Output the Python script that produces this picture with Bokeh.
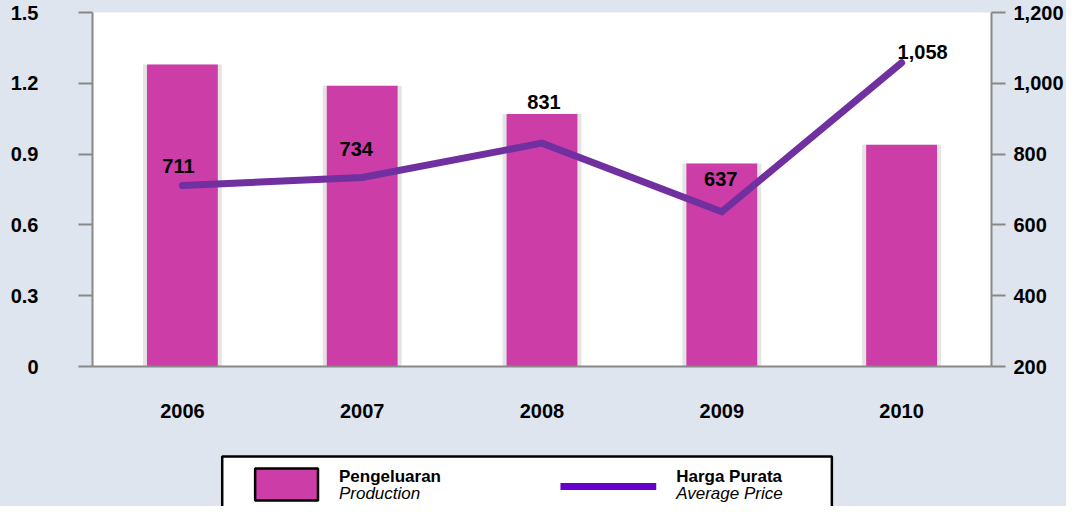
from bokeh.plotting import figure
from bokeh.models import (FactorRange, Range1d, LinearAxis, FixedTicker,
                          NumeralTickFormatter, ColumnDataSource)
from bokeh.layouts import column
from bokeh.embed import file_html
from bokeh.resources import INLINE
from bokeh.core.properties import value

# ---------------- data ----------------
years = ["2006", "2007", "2008", "2009", "2010"]
production = [1.28, 1.19, 1.07, 0.86, 0.94]
avg_price = [711, 734, 831, 637, 1058]
price_labels = ["711", "734", "831", "637", "1,058"]
left_ticks = [0, 0.3, 0.6, 0.9, 1.2, 1.5]
right_ticks = [200, 400, 600, 800, 1000, 1200]

# ---------------- style / layout ----------------
BG = "#dee5ef"
BAR = "#cd3da7"
LINE = "#7030a0"
LEG_LINE = "#6600cc"
AXIS = "#888888"
FONT = "Liberation Sans"
label_dx = [-4, -6, 2, -1, 21]
label_dy = [20, 28, 41, 33, 11]

W, H_MAIN, H_LEG = 1066, 452, 54
FL, FR = 92, 993  # frame left / right

p = figure(width=W, height=H_MAIN,
           x_range=FactorRange(factors=years, range_padding=0),
           y_range=Range1d(0, 1.5),
           output_backend="svg", toolbar_location=None,
           min_border_left=FL, min_border_right=W - FR,
           min_border_top=12, min_border_bottom=H_MAIN - 366,
           background_fill_color="white", border_fill_color=BG,
           outline_line_color=None)
p.grid.visible = False
p.extra_y_ranges = {"price": Range1d(200, 1200)}

def style_axis(ax):
    ax.axis_line_color = AXIS
    ax.axis_line_width = 2
    ax.major_tick_line_color = AXIS
    ax.major_tick_line_width = 2
    ax.minor_tick_line_color = None
    ax.major_label_text_font = FONT
    ax.major_label_text_font_size = "20px"
    ax.major_label_text_font_style = "bold"
    ax.major_label_text_color = "black"

left = p.yaxis[0]
style_axis(left)
left.ticker = FixedTicker(ticks=left_ticks)
left.major_label_overrides = {0: "0"}
left.major_tick_out = 14
left.major_tick_in = 0
left.major_label_standoff = 40

right = LinearAxis(y_range_name="price", ticker=FixedTicker(ticks=right_ticks),
                   formatter=NumeralTickFormatter(format="0,0"))
style_axis(right)
right.major_tick_out = 14
right.major_tick_in = 0
right.major_label_standoff = 8
p.add_layout(right, "right")

xa = p.xaxis[0]
style_axis(xa)
xa.major_tick_out = 0
xa.major_tick_in = 0
xa.major_label_standoff = 37

src = ColumnDataSource(dict(x=years, prod=production, price=avg_price,
                            lab=price_labels, dx=label_dx, dy=[-d for d in label_dy]))

p.vbar(x="x", top="prod", width=0.394 + 8 / 180, source=src,
       fill_color="#e4e4e4", line_color=None)
p.vbar(x="x", top="prod", width=0.394, source=src,
       fill_color=BAR, line_color=None)
p.line(x="x", y="price", source=src, y_range_name="price",
       line_color=LINE, line_width=7, line_cap="round", line_join="miter")
p.text(x="x", y="price", text="lab", source=src, y_range_name="price",
       x_offset="dx", y_offset="dy", text_align="center", text_baseline="middle",
       text_font=value(FONT), text_font_size="20px", text_font_style="bold",
       text_color="black")

# ---------------- legend panel (coordinates in page pixels) ----------------
lg = figure(width=W, height=H_LEG, x_range=Range1d(FL, FR),
            y_range=Range1d(H_MAIN + H_LEG, H_MAIN),
            output_backend="svg", toolbar_location=None,
            min_border_left=FL, min_border_right=W - FR,
            min_border_top=0, min_border_bottom=0,
            x_axis_location=None, y_axis_location=None,
            background_fill_color=None, border_fill_color=BG, outline_line_color=None)
lg.grid.visible = False
lg.quad(left=[222], right=[833], top=[456], bottom=[540],
        fill_color="white", line_color="black", line_width=2.5)
lg.quad(left=[255], right=[318], top=[468], bottom=[500],
        fill_color=BAR, line_color="black", line_width=2.5)
lg.segment(x0=[561], x1=[657], y0=[486], y1=[486], line_color=LEG_LINE, line_width=7)
lg.text(x=[339, 677], y=[476, 476], text=["Pengeluaran", "Harga Purata"],
        text_font=value(FONT), text_font_size="17px", text_font_style="bold",
        text_align="left", text_baseline="middle", text_color="black")
lg.text(x=[339, 677], y=[493, 493], text=["Production", "Average Price"],
        text_font=value(FONT), text_font_size="17px", text_font_style="italic",
        text_align="left", text_baseline="middle", text_color="black")

layout = column(p, lg, spacing=0, styles={"background-color": BG})
open("out.html", "w").write(file_html(layout, INLINE))
